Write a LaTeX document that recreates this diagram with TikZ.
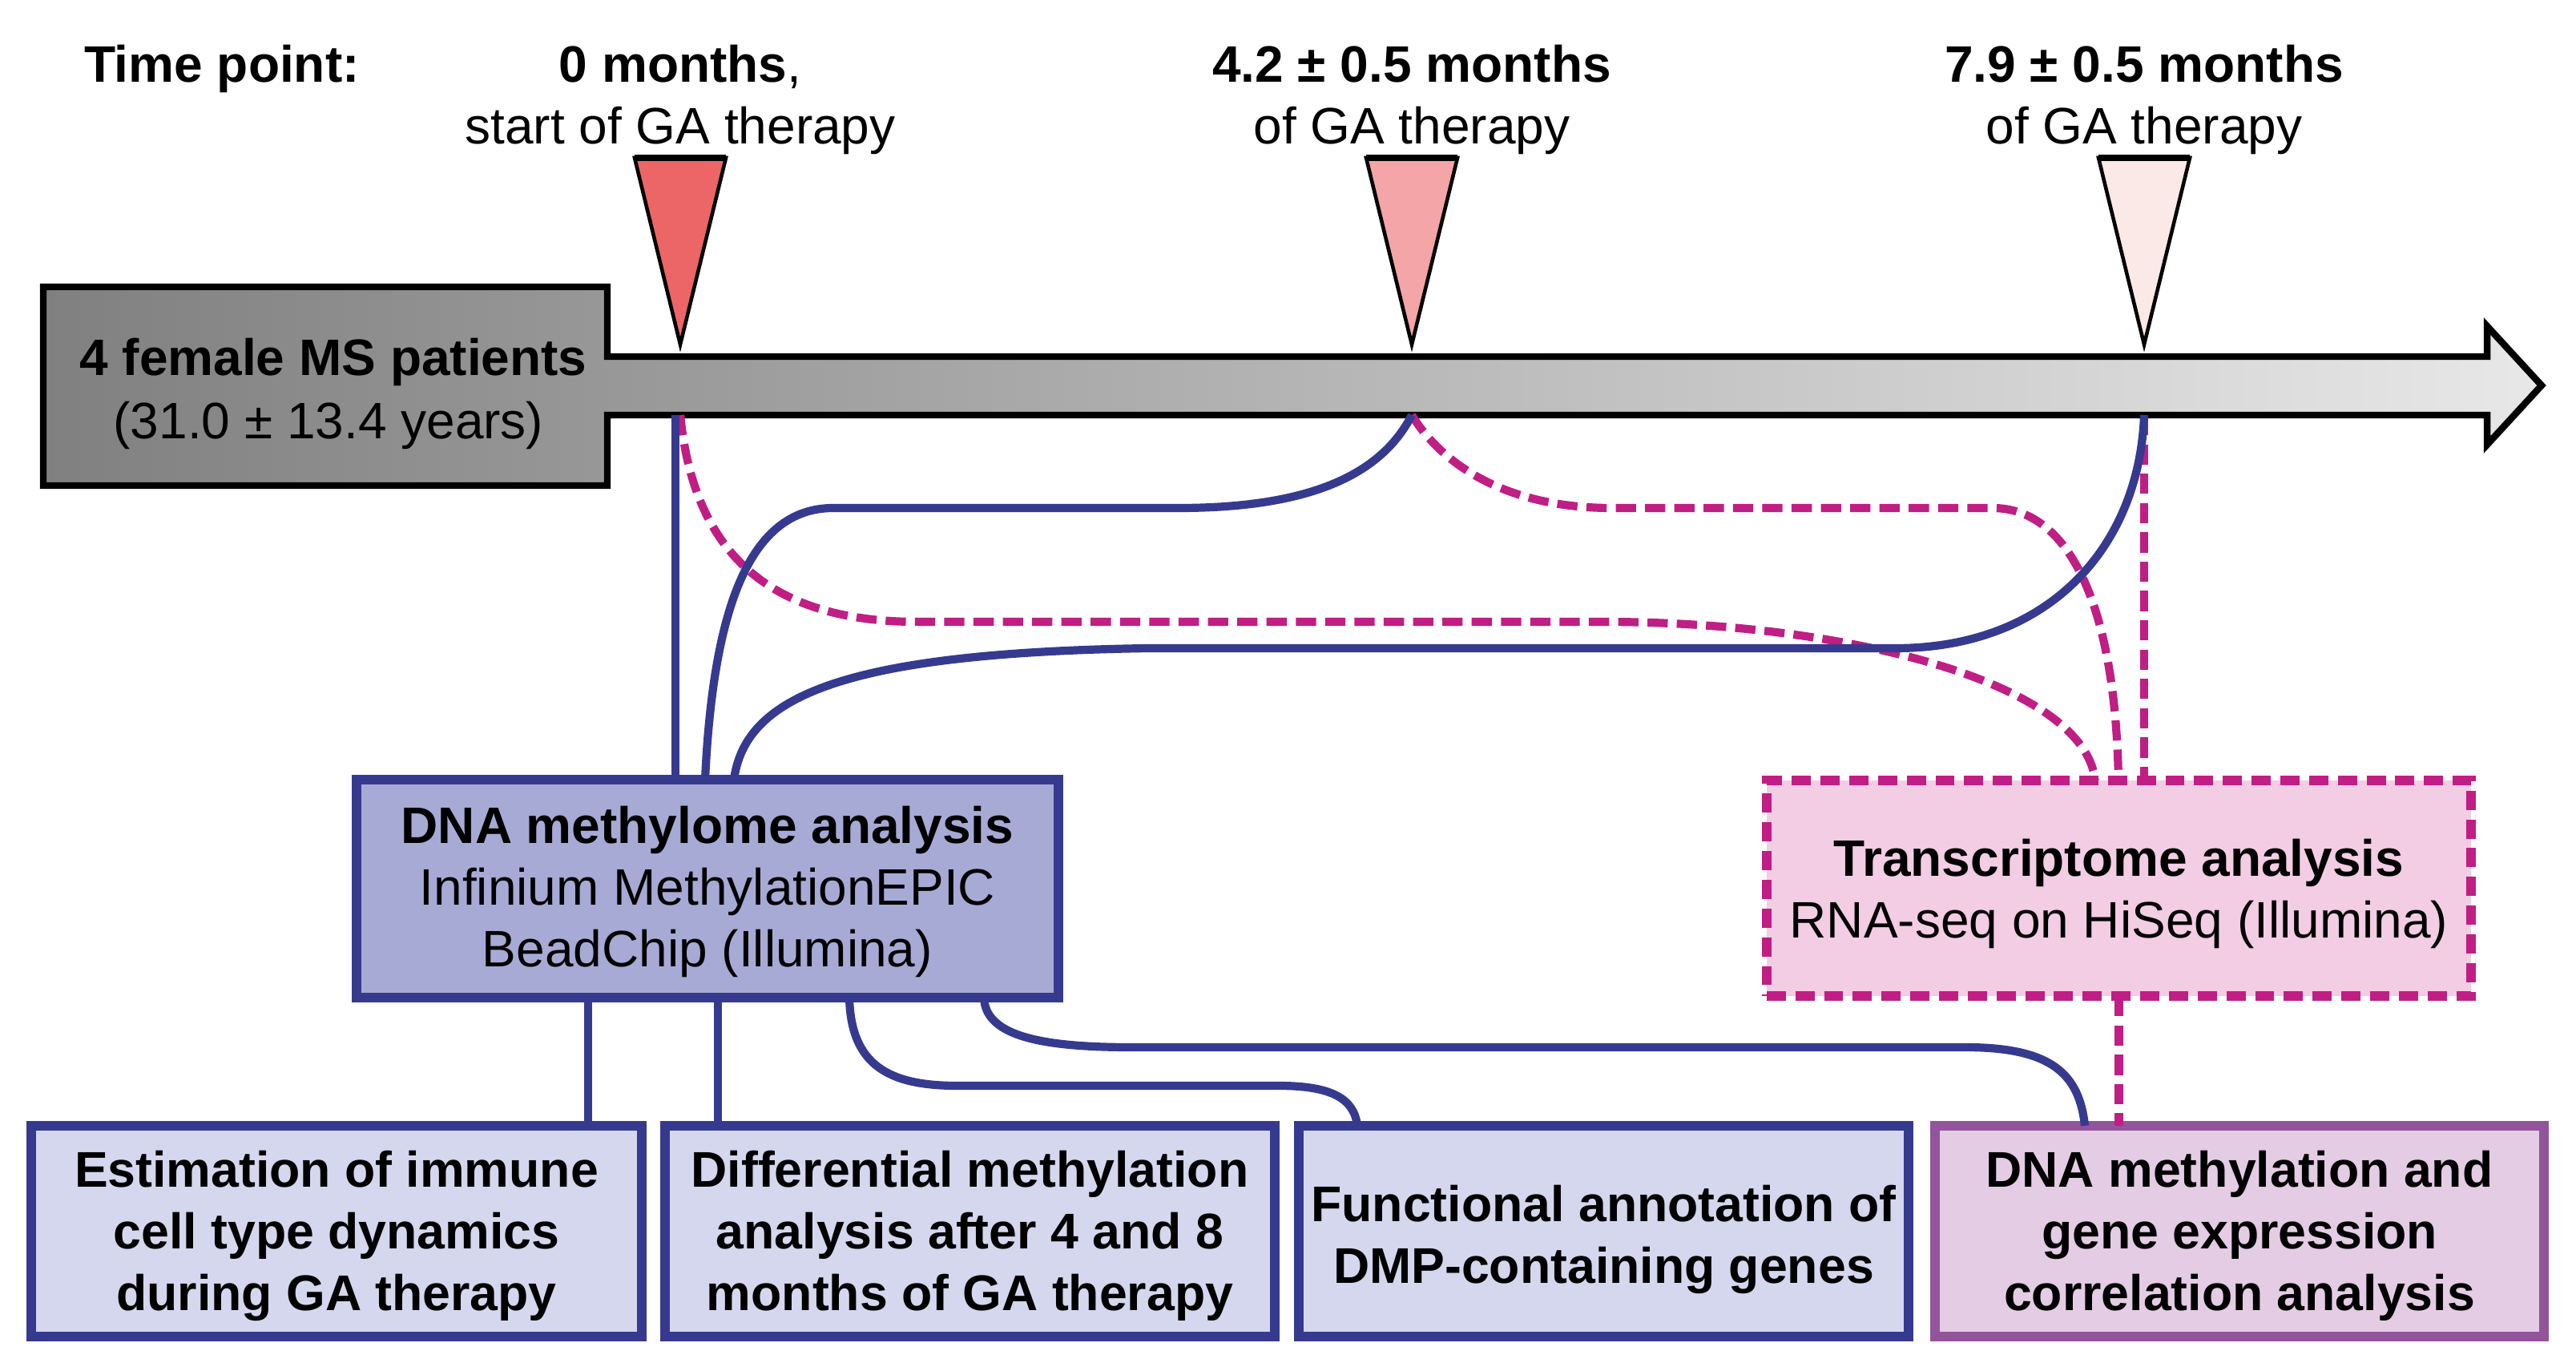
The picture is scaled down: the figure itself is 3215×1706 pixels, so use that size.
\documentclass[tikz,border=0pt]{standalone}
\usepackage{fontspec}
\setmainfont{Liberation Sans}
\definecolor{lblue}{RGB}{54,58,143}
\definecolor{lmag}{RGB}{192,30,132}
\definecolor{lmeth}{RGB}{167,170,213}
\definecolor{lbox}{RGB}{213,215,238}
\definecolor{ltrans}{RGB}{242,205,228}
\definecolor{lcorr}{RGB}{227,204,228}
\definecolor{lpurple}{RGB}{146,84,155}
\definecolor{triA}{RGB}{236,102,103}
\definecolor{triB}{RGB}{244,165,167}
\definecolor{triC}{RGB}{251,233,232}
\definecolor{grayA}{RGB}{128,128,128}
\definecolor{grayB}{RGB}{232,232,232}
\begin{document}
\begin{tikzpicture}[x=0.01cm,y=-0.01cm,
  every node/.style={font=\fontsize{18.2}{21.9}\selectfont, inner sep=0pt, outer sep=0pt},
  boldsmall/.style={font=\fontsize{17.8}{21.9}\selectfont\bfseries},
  blueline/.style={draw=lblue, line width=2.9pt},
  magline/.style={draw=lmag, line width=2.9pt, dash pattern=on 7.2pt off 3.2pt},
  bluebox/.style={draw=lblue, line width=3.3pt, fill=lbox, align=center,
    minimum width=7.61cm, minimum height=2.63cm},
  methbox/.style={draw=lblue, line width=3.3pt, fill=lmeth,
    minimum width=8.76cm, minimum height=2.72cm},
  transbox/.style={draw=lmag, line width=3.3pt, fill=ltrans,
    dash pattern=on 6.8pt off 3.4pt, minimum width=8.79cm, minimum height=2.69cm},
  corrbox/.style={draw=lpurple, line width=3.3pt, fill=lcorr,
    minimum width=7.60cm, minimum height=2.63cm},
  tri/.style={draw=black, line width=1.3pt},
  tritop/.style={draw=black, line width=2.4pt},
  hdr/.style={anchor=base},
]
\useasboundingbox (0,0) rectangle (3215,1706);

% timeline arrow with patient box
\path[draw=black, line width=2.4pt, left color=grayA, right color=grayB]
  (54,358) -- (758,358) -- (758,445) -- (3104,445) -- (3104,407) -- (3172,481)
  -- (3104,555) -- (3104,518) -- (758,518) -- (758,606) -- (54,606) -- cycle;
\node[hdr, font=\fontsize{18.2}{21.9}\selectfont\bfseries] (pat1) at (416,468) {4 female MS patients};
\node[hdr] (pat2) at (410,547) {(31.0 ± 13.4 years)};

% header texts
\node[anchor=base west, font=\fontsize{18.2}{21.9}\selectfont\bfseries] (tp) at (105,103) {Time point:};
\node[hdr] (h0a) at (849,103) {\textbf{0 months},};
\node[hdr] (h0b) at (849,180) {start of GA therapy};
\node[hdr] (h1a) at (1762,103) {\textbf{4.2 ± 0.5 months}};
\node[hdr] (h1b) at (1762,180) {of GA therapy};
\node[hdr] (h2a) at (2676,103) {\textbf{7.9 ± 0.5 months}};
\node[hdr] (h2b) at (2676,180) {of GA therapy};

% triangles
\filldraw[tri, fill=triA] (792,197) -- (906,197) -- (849,430) -- cycle;
\draw[tritop] (792,197) -- (906,197);
\filldraw[tri, fill=triB] (1705,197) -- (1819,197) -- (1762,430) -- cycle;
\draw[tritop] (1705,197) -- (1819,197);
\filldraw[tri, fill=triC] (2619,197) -- (2733,197) -- (2676,430) -- cycle;
\draw[tritop] (2619,197) -- (2733,197);

\coordinate (p0) at (849,518);
\coordinate (p0l) at (843,518);
\coordinate (p1) at (1762,518);
\coordinate (p2) at (2676,518);

% boxes
\node[methbox] (meth) at (883,1109) {};
\node[align=center] (metht) at ([yshift=-0.04cm]meth.center) {\textbf{DNA methylome analysis}\\Infinium MethylationEPIC\\BeadChip (Illumina)};
\node[transbox] (trans) at (2644.5,1108.5) {};
\node[align=center] (transt) at ([yshift=-0.07cm]trans.center) {\textbf{Transcriptome analysis}\\RNA-seq on HiSeq (Illumina)};
\node[bluebox] (est) at (420,1536.5) {};
\node[align=center, boldsmall] (estt) at ([yshift=-0.06cm]est.center) {Estimation of immune\\cell type dynamics\\during GA therapy};
\node[bluebox] (diff) at (1210.5,1536.5) {};
\node[align=center, boldsmall] (difft) at ([yshift=-0.06cm]diff.center) {Differential methylation\\analysis after 4 and 8\\months of GA therapy};
\node[bluebox] (func) at (2001.5,1536.5) {};
\node[align=center, boldsmall] (funct) at ([yshift=-0.1cm]func.center) {Functional annotation of\\DMP-containing genes};
\node[corrbox] (corr) at (2795,1536.5) {};
\node[align=center, boldsmall] (corrt) at ([yshift=-0.06cm]corr.center) {DNA methylation and\\gene expression\\correlation analysis};

% dashed connectors (transcriptome)
\draw[magline] (p0) .. controls (865,680) and (950,776) .. (1145,776) -- (2000,776)
  .. controls (2300,776) and (2600,850) .. (2615,0 |- trans.north);
\draw[magline] (p1) .. controls (1800,580) and (1880,634) .. (2012,634) -- (2487,634)
  .. controls (2580,634) and (2640,750) .. (2644,0 |- trans.north);
\draw[magline] (p2) -- (p2 |- trans.north);
\draw[magline] (trans.south) -- (trans.south |- corr.north);

% solid connectors (methylome)
\draw[blueline] (p0l) -- (p0l |- meth.north);
\draw[blueline] (880,0 |- meth.north) .. controls (890,760) and (935,634) .. (1040,634) -- (1470,634)
  .. controls (1620,634) and (1720,600) .. (p1);
\draw[blueline] (916,0 |- meth.north) .. controls (930,870) and (1050,815) .. (1432,809) -- (2365,809)
  .. controls (2560,809) and (2670,680) .. (p2);
\draw[blueline] (734,0 |- meth.south) -- (734,0 |- est.north);
\draw[blueline] (896,0 |- meth.south) -- (896,0 |- diff.north);
\draw[blueline] (1060,0 |- meth.south) .. controls (1062,1330) and (1110,1355) .. (1195,1355) -- (1596,1355)
  .. controls (1660,1355) and (1690,1370) .. (1694,0 |- func.north);
\draw[blueline] (1228,0 |- meth.south) .. controls (1230,1290) and (1290,1307) .. (1412,1307) -- (2453,1307)
  .. controls (2560,1307) and (2595,1340) .. (2602,0 |- corr.north);
\end{tikzpicture}
\end{document}
